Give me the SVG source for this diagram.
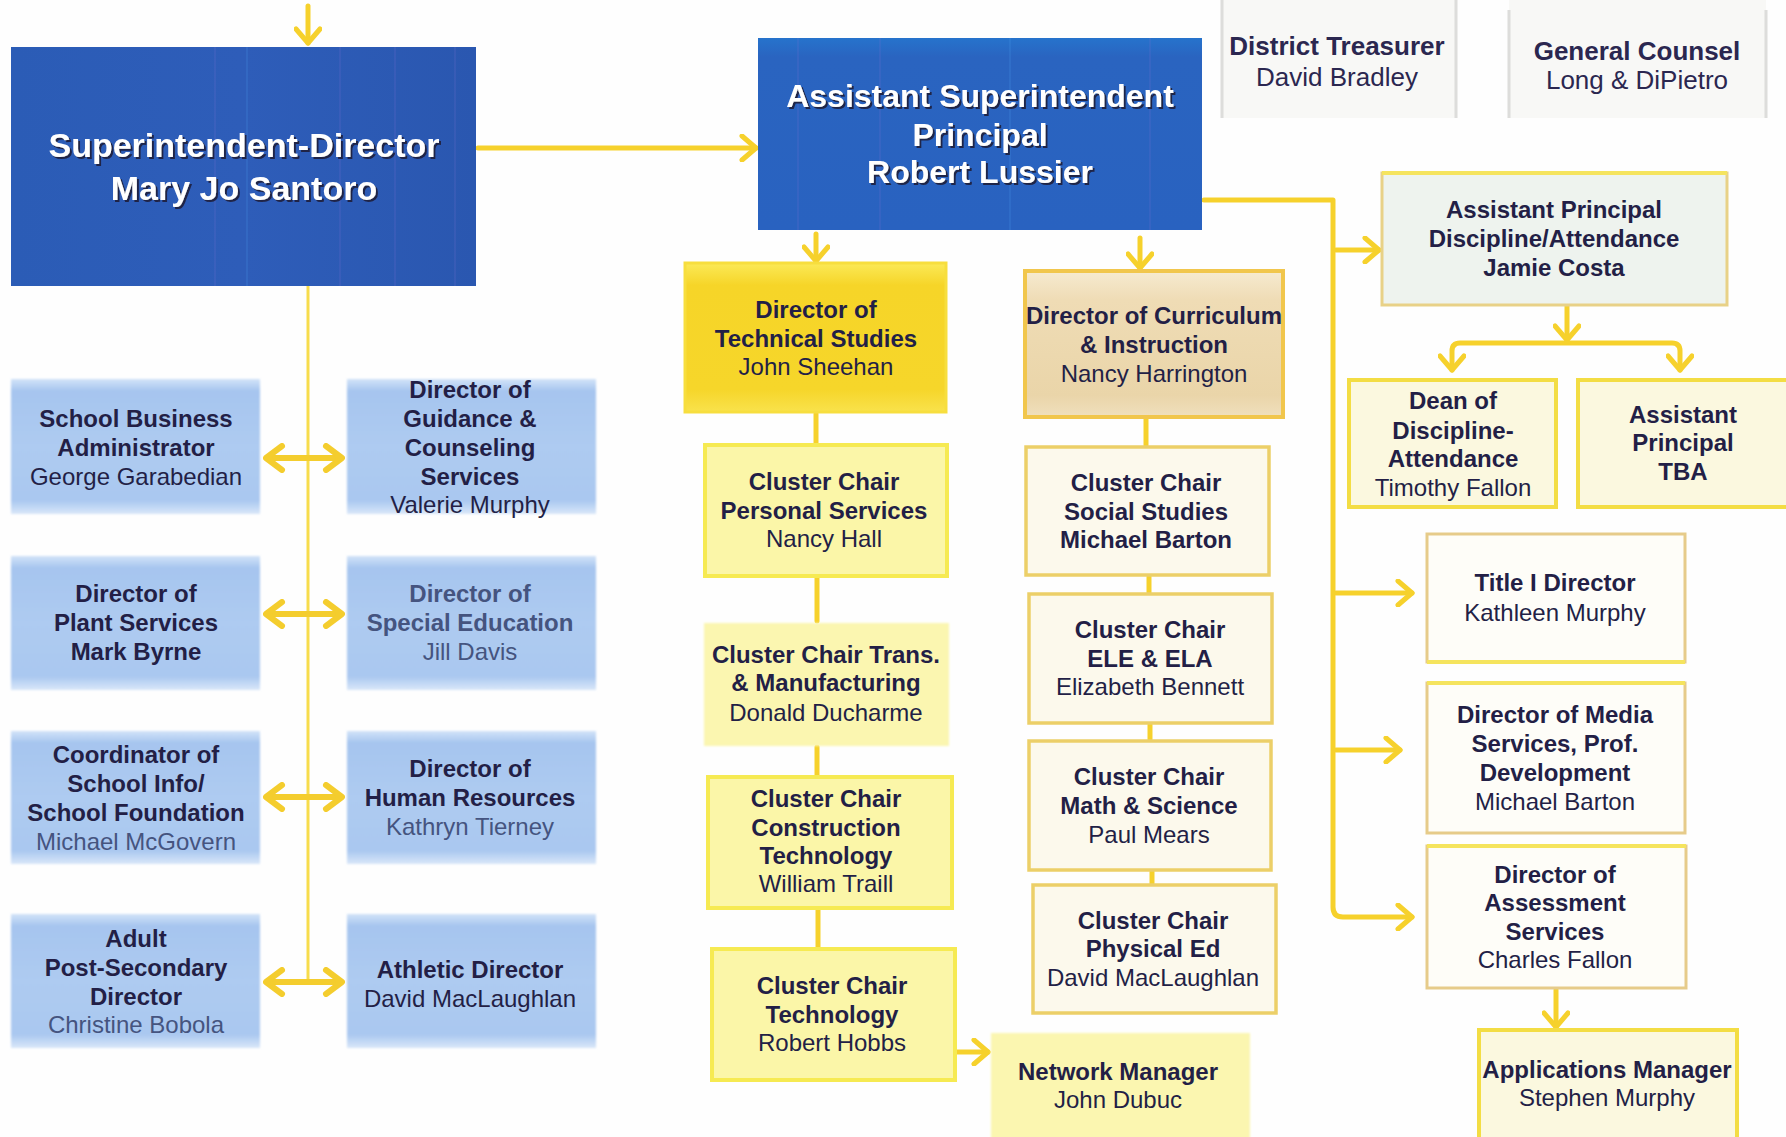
<svg xmlns="http://www.w3.org/2000/svg" width="1786" height="1137" viewBox="0 0 1786 1137">
  <style>
    text { font-family: "Liberation Sans", Arial, sans-serif; text-anchor: middle; fill: #231f46; }
    .b { font-weight: bold; font-size: 24px; }
    .r { font-size: 24px; }
    .soft { fill: #45547f; }
    .big { font-weight: bold; fill: #ffffff; filter: url(#shadow); }
    .head { font-size: 26px; fill: #2b2750; }
    .link { fill: none; stroke: #f6d12c; stroke-width: 5; stroke-linecap: round; stroke-linejoin: round; }
    .thin { fill: none; stroke: #f7dc4c; stroke-width: 3; }
    .dbl { fill: none; stroke: #f4cd2e; stroke-width: 6; marker-start: url(#ah2); marker-end: url(#ah2); }
    .stripe { stroke: #7a6fd0; stroke-width: 1.5; opacity: 0.22; }
    .stripe2 { stroke: #4a9ae8; stroke-width: 1.5; opacity: 0.25; }
    .blue { fill: url(#gBlue); filter: url(#soften); }
    .gold { fill: url(#gGold); stroke: #f7de3e; stroke-width: 3; }
    .lemon { fill: #fbf6a8; stroke: #f6ea52; stroke-width: 4; }
    .lemonsoft { fill: #fbf6b0; filter: url(#soften); }
    .beige { fill: url(#gBeige); stroke: #f1c64c; stroke-width: 4; }
    .cream { fill: #fcf9ec; stroke: #eccf68; stroke-width: 3.5; }
    .ivory { fill: #fefdf8; stroke: #e6cb8a; stroke-width: 3; }
    .mint { fill: #eef3ee; stroke: #e8d187; stroke-width: 3; }
    .straw { fill: #fbf8df; stroke: #f3dd44; stroke-width: 4; }
    .plain { fill: #f8f8f6; }
    .rule { stroke: #dddddb; stroke-width: 3; }
    .topedge { stroke: #f5e45e; stroke-width: 4; }
  </style>
  <defs>
    <marker id="ah" markerUnits="userSpaceOnUse" markerWidth="26" markerHeight="28" viewBox="0 0 26 28" refX="22" refY="14" orient="auto-start-reverse">
      <path d="M8,2 L22,14 L8,26" fill="none" stroke="#f6d12c" stroke-width="5" stroke-linecap="round" stroke-linejoin="round"/>
    </marker>
    <marker id="ah2" markerUnits="userSpaceOnUse" markerWidth="26" markerHeight="30" viewBox="0 0 26 30" refX="23" refY="15" orient="auto-start-reverse">
      <path d="M7,3 L23,15 L7,27" fill="none" stroke="#f4cd2e" stroke-width="6" stroke-linecap="round" stroke-linejoin="round"/>
    </marker>
    <linearGradient id="gBlue" x1="0" y1="0" x2="0" y2="1">
      <stop offset="0" stop-color="#d2e3f8"/>
      <stop offset="0.09" stop-color="#a6c5ef"/>
      <stop offset="0.5" stop-color="#aecbf1"/>
      <stop offset="0.9" stop-color="#aac8f0"/>
      <stop offset="1" stop-color="#d9e7f9"/>
    </linearGradient>
    <linearGradient id="gGold" x1="0" y1="0" x2="0" y2="1">
      <stop offset="0" stop-color="#fbe957"/>
      <stop offset="0.15" stop-color="#f6d528"/>
      <stop offset="0.85" stop-color="#f6d62a"/>
      <stop offset="1" stop-color="#f9e24c"/>
    </linearGradient>
    <linearGradient id="gBeige" x1="0" y1="0" x2="0" y2="1">
      <stop offset="0" stop-color="#f6ead0"/>
      <stop offset="0.2" stop-color="#efdcb5"/>
      <stop offset="0.85" stop-color="#ead5a9"/>
      <stop offset="1" stop-color="#f0e0bd"/>
    </linearGradient>
    <linearGradient id="gNavy1" x1="0" y1="0" x2="1" y2="0">
      <stop offset="0" stop-color="#2b5cb6"/>
      <stop offset="0.5" stop-color="#2e5db9"/>
      <stop offset="1" stop-color="#2a57b0"/>
    </linearGradient>
    <linearGradient id="gNavy2" x1="0" y1="0" x2="0" y2="1">
      <stop offset="0" stop-color="#2673cc"/>
      <stop offset="0.1" stop-color="#2a64c0"/>
      <stop offset="1" stop-color="#2962c0"/>
    </linearGradient>
    <filter id="shadow" x="-5%" y="-20%" width="110%" height="150%">
      <feDropShadow dx="2" dy="2" stdDeviation="0.6" flood-color="#1a1a3a" flood-opacity="0.9"/>
    </filter>
    <filter id="soften" x="-5%" y="-5%" width="110%" height="110%">
      <feGaussianBlur stdDeviation="1.3"/>
    </filter>
  </defs>

  <rect width="1786" height="1137" fill="#fefefe"/>

  <!-- connectors -->
  <g id="connectors">
    <!-- into the superintendent box from above -->
    <path class="link" d="M308,6 V43" marker-end="url(#ah)"/>
    <path class="link" d="M1318,-12 V8" marker-end="url(#ah)"/>
    <path class="link" d="M1620,-14 V4" marker-end="url(#ah)"/>
    <!-- superintendent to assistant superintendent -->
    <path class="link" d="M478,148 H756" marker-end="url(#ah)"/>
    <!-- staff spine and the paired double arrows -->
    <path class="thin" d="M308,286 V982"/>
    <path class="dbl" d="M266,458 H342"/>
    <path class="dbl" d="M266,614 H342"/>
    <path class="dbl" d="M266,797 H342"/>
    <path class="dbl" d="M266,982 H342"/>
    <!-- assistant superintendent down to the two directors -->
    <path class="link" d="M816,234 V261" marker-end="url(#ah)"/>
    <path class="link" d="M1140,238 V268" marker-end="url(#ah)"/>
    <!-- technical studies chain -->
    <path class="link" d="M816,414 V443"/>
    <path class="link" d="M817,578 V621"/>
    <path class="link" d="M817,747 V775"/>
    <path class="link" d="M818,910 V947"/>
    <path class="link" d="M957,1052 H988" marker-end="url(#ah)"/>
    <!-- curriculum chain -->
    <path class="link" d="M1146,419 V445"/>
    <path class="link" d="M1149,577 V592"/>
    <path class="link" d="M1150,725 V739"/>
    <path class="link" d="M1152,872 V883"/>
    <!-- right-hand trunk -->
    <path class="link" d="M1204,200 H1333 V907 Q1333,917 1343,917 H1412" marker-end="url(#ah)"/>
    <path class="link" d="M1336,250 H1379" marker-end="url(#ah)"/>
    <path class="link" d="M1336,593 H1412" marker-end="url(#ah)"/>
    <path class="link" d="M1336,750 H1400" marker-end="url(#ah)"/>
    <!-- discipline fork -->
    <path class="link" d="M1567,306 V340" marker-end="url(#ah)"/>
    <path class="link" d="M1452,370 V351 Q1452,343 1460,343 H1672 Q1680,343 1680,351 V370" marker-start="url(#ah)" marker-end="url(#ah)"/>
    <!-- assessment to applications -->
    <path class="link" d="M1556,990 V1027" marker-end="url(#ah)"/>
  </g>

  <!-- top level -->
  <g id="superintendent">
    <rect x="11" y="47" width="465" height="239" fill="url(#gNavy1)"/>
    <line class="stripe" x1="215" y1="47" x2="215" y2="286"/>
    <line class="stripe2" x1="247" y1="47" x2="247" y2="286"/>
    <line class="stripe" x1="340" y1="47" x2="340" y2="286"/>
    <line class="stripe" x1="395" y1="47" x2="395" y2="286"/>
    <line class="stripe" x1="455" y1="47" x2="455" y2="286"/>
    <text class="big" x="244" y="157" font-size="34">Superintendent-Director</text>
    <text class="big" x="244" y="200" font-size="34">Mary Jo Santoro</text>
  </g>

  <g id="asst-superintendent">
    <rect x="758" y="38" width="444" height="192" fill="url(#gNavy2)"/>
    <line class="stripe" x1="798" y1="38" x2="798" y2="230"/>
    <line class="stripe" x1="880" y1="38" x2="880" y2="230"/>
    <line class="stripe2" x1="1010" y1="38" x2="1010" y2="230"/>
    <line class="stripe" x1="1150" y1="38" x2="1150" y2="230"/>
    <text class="big" x="980" y="107" font-size="32">Assistant Superintendent</text>
    <text class="big" x="980" y="146" font-size="32">Principal</text>
    <text class="big" x="980" y="183" font-size="32">Robert Lussier</text>
  </g>

  <g id="district-treasurer">
    <rect class="plain" x="1222" y="0" width="234" height="118"/>
    <line class="rule" x1="1222" y1="0" x2="1222" y2="118"/>
    <line class="rule" x1="1456" y1="0" x2="1456" y2="118"/>
    <text class="head" x="1337" y="55" font-weight="bold">District Treasurer</text>
    <text class="head" x="1337" y="86">David Bradley</text>
  </g>

  <g id="general-counsel">
    <rect class="plain" x="1509" y="0" width="257" height="118"/>
    <line class="rule" x1="1509" y1="10" x2="1509" y2="118"/>
    <line class="rule" x1="1766" y1="10" x2="1766" y2="118"/>
    <text class="head" x="1637" y="60" font-weight="bold">General Counsel</text>
    <text class="head" x="1637" y="89">Long &amp; DiPietro</text>
  </g>

  <!-- staff reporting to the superintendent -->
  <g id="business-administrator">
    <rect class="blue" x="11" y="379" width="249" height="135"/>
    <text class="b" x="136" y="427">School Business</text>
    <text class="b" x="136" y="456">Administrator</text>
    <text class="r" x="136" y="485">George Garabedian</text>
  </g>
  <g id="guidance">
    <rect class="blue" x="347" y="379" width="249" height="135"/>
    <text class="b" x="470" y="398">Director of</text>
    <text class="b" x="470" y="427">Guidance &amp;</text>
    <text class="b" x="470" y="456">Counseling</text>
    <text class="b" x="470" y="485">Services</text>
    <text class="r" x="470" y="513">Valerie Murphy</text>
  </g>
  <g id="plant-services">
    <rect class="blue" x="11" y="556" width="249" height="134"/>
    <text class="b" x="136" y="602">Director of</text>
    <text class="b" x="136" y="631">Plant Services</text>
    <text class="b" x="136" y="660">Mark Byrne</text>
  </g>
  <g id="special-education">
    <rect class="blue" x="347" y="556" width="249" height="134"/>
    <text class="b soft" x="470" y="602">Director of</text>
    <text class="b soft" x="470" y="631">Special Education</text>
    <text class="r soft" x="470" y="660">Jill Davis</text>
  </g>
  <g id="school-info">
    <rect class="blue" x="11" y="731" width="249" height="133"/>
    <text class="b" x="136" y="763">Coordinator of</text>
    <text class="b" x="136" y="792">School Info/</text>
    <text class="b" x="136" y="821">School Foundation</text>
    <text class="r soft" x="136" y="850">Michael McGovern</text>
  </g>
  <g id="human-resources">
    <rect class="blue" x="347" y="731" width="249" height="133"/>
    <text class="b" x="470" y="777">Director of</text>
    <text class="b" x="470" y="806">Human Resources</text>
    <text class="r soft" x="470" y="835">Kathryn Tierney</text>
  </g>
  <g id="adult-education">
    <rect class="blue" x="11" y="914" width="249" height="134"/>
    <text class="b" x="136" y="947">Adult</text>
    <text class="b" x="136" y="976">Post-Secondary</text>
    <text class="b" x="136" y="1005">Director</text>
    <text class="r soft" x="136" y="1033">Christine Bobola</text>
  </g>
  <g id="athletic-director">
    <rect class="blue" x="347" y="914" width="249" height="134"/>
    <text class="b" x="470" y="978">Athletic Director</text>
    <text class="r" x="470" y="1007">David MacLaughlan</text>
  </g>

  <!-- technical studies branch -->
  <g id="technical-studies">
    <rect class="gold" x="685" y="263" width="261" height="149"/>
    <text class="b" x="816" y="318">Director of</text>
    <text class="b" x="816" y="347">Technical Studies</text>
    <text class="r" x="816" y="375">John Sheehan</text>
  </g>
  <g id="personal-services">
    <rect class="lemon" x="705" y="445" width="242" height="131"/>
    <text class="b" x="824" y="490">Cluster Chair</text>
    <text class="b" x="824" y="519">Personal Services</text>
    <text class="r" x="824" y="547">Nancy Hall</text>
  </g>
  <g id="manufacturing">
    <rect class="lemonsoft" x="704" y="623" width="245" height="123"/>
    <text class="b" x="826" y="663">Cluster Chair Trans.</text>
    <text class="b" x="826" y="691">&amp; Manufacturing</text>
    <text class="r" x="826" y="721">Donald Ducharme</text>
  </g>
  <g id="construction">
    <rect class="lemon" x="708" y="777" width="244" height="131"/>
    <text class="b" x="826" y="807">Cluster Chair</text>
    <text class="b" x="826" y="836">Construction</text>
    <text class="b" x="826" y="864">Technology</text>
    <text class="r" x="826" y="892">William Traill</text>
  </g>
  <g id="technology">
    <rect class="lemon" x="712" y="949" width="243" height="131"/>
    <text class="b" x="832" y="994">Cluster Chair</text>
    <text class="b" x="832" y="1023">Technology</text>
    <text class="r" x="832" y="1051">Robert Hobbs</text>
  </g>
  <g id="network-manager">
    <rect class="lemonsoft" x="991" y="1033" width="259" height="110"/>
    <text class="b" x="1118" y="1080">Network Manager</text>
    <text class="r" x="1118" y="1108">John Dubuc</text>
  </g>

  <!-- curriculum branch -->
  <g id="curriculum">
    <rect class="beige" x="1025" y="271" width="258" height="146"/>
    <text class="b" x="1154" y="324">Director of Curriculum</text>
    <text class="b" x="1154" y="353">&amp; Instruction</text>
    <text class="r" x="1154" y="382">Nancy Harrington</text>
  </g>
  <g id="social-studies">
    <rect class="cream" x="1026" y="447" width="243" height="128"/>
    <text class="b" x="1146" y="491">Cluster Chair</text>
    <text class="b" x="1146" y="520">Social Studies</text>
    <text class="b" x="1146" y="548">Michael Barton</text>
  </g>
  <g id="ele-ela">
    <rect class="cream" x="1029" y="594" width="243" height="129"/>
    <text class="b" x="1150" y="638">Cluster Chair</text>
    <text class="b" x="1150" y="667">ELE &amp; ELA</text>
    <text class="r" x="1150" y="695">Elizabeth Bennett</text>
  </g>
  <g id="math-science">
    <rect class="cream" x="1029" y="741" width="242" height="129"/>
    <text class="b" x="1149" y="785">Cluster Chair</text>
    <text class="b" x="1149" y="814">Math &amp; Science</text>
    <text class="r" x="1149" y="843">Paul Mears</text>
  </g>
  <g id="physical-ed">
    <rect class="cream" x="1033" y="885" width="243" height="128"/>
    <text class="b" x="1153" y="929">Cluster Chair</text>
    <text class="b" x="1153" y="957">Physical Ed</text>
    <text class="r" x="1153" y="986">David MacLaughlan</text>
  </g>

  <!-- right-hand branch -->
  <g id="discipline-attendance">
    <rect class="mint" x="1382" y="173" width="345" height="132"/>
    <line class="topedge" x1="1382" y1="173" x2="1727" y2="173"/>
    <text class="b" x="1554" y="218">Assistant Principal</text>
    <text class="b" x="1554" y="247">Discipline/Attendance</text>
    <text class="b" x="1554" y="276">Jamie Costa</text>
  </g>
  <g id="dean">
    <rect class="straw" x="1349" y="380" width="207" height="127"/>
    <text class="b" x="1453" y="409">Dean of</text>
    <text class="b" x="1453" y="439">Discipline-</text>
    <text class="b" x="1453" y="467">Attendance</text>
    <text class="r" x="1453" y="496">Timothy Fallon</text>
  </g>
  <g id="assistant-principal-tba">
    <rect class="straw" x="1578" y="380" width="210" height="127"/>
    <text class="b" x="1683" y="423">Assistant</text>
    <text class="b" x="1683" y="451">Principal</text>
    <text class="b" x="1683" y="480">TBA</text>
  </g>
  <g id="title-one">
    <rect class="ivory" x="1427" y="534" width="258" height="128"/>
    <line class="topedge" x1="1427" y1="662" x2="1685" y2="662" stroke-width="3"/>
    <text class="b" x="1555" y="591">Title I Director</text>
    <text class="r" x="1555" y="621">Kathleen Murphy</text>
  </g>
  <g id="media-services">
    <rect class="ivory" x="1427" y="683" width="258" height="150"/>
    <line class="topedge" x1="1427" y1="683" x2="1685" y2="683" stroke-width="3"/>
    <text class="b" x="1555" y="723">Director of Media</text>
    <text class="b" x="1555" y="752">Services, Prof.</text>
    <text class="b" x="1555" y="781">Development</text>
    <text class="r" x="1555" y="810">Michael Barton</text>
  </g>
  <g id="assessment">
    <rect class="ivory" x="1427" y="846" width="259" height="142"/>
    <line class="topedge" x1="1427" y1="846" x2="1686" y2="846" stroke-width="3"/>
    <text class="b" x="1555" y="883">Director of</text>
    <text class="b" x="1555" y="911">Assessment</text>
    <text class="b" x="1555" y="940">Services</text>
    <text class="r" x="1555" y="968">Charles Fallon</text>
  </g>
  <g id="applications-manager">
    <rect class="straw" x="1479" y="1030" width="258" height="112"/>
    <text class="b" x="1607" y="1078">Applications Manager</text>
    <text class="r" x="1607" y="1106">Stephen Murphy</text>
  </g>
</svg>
